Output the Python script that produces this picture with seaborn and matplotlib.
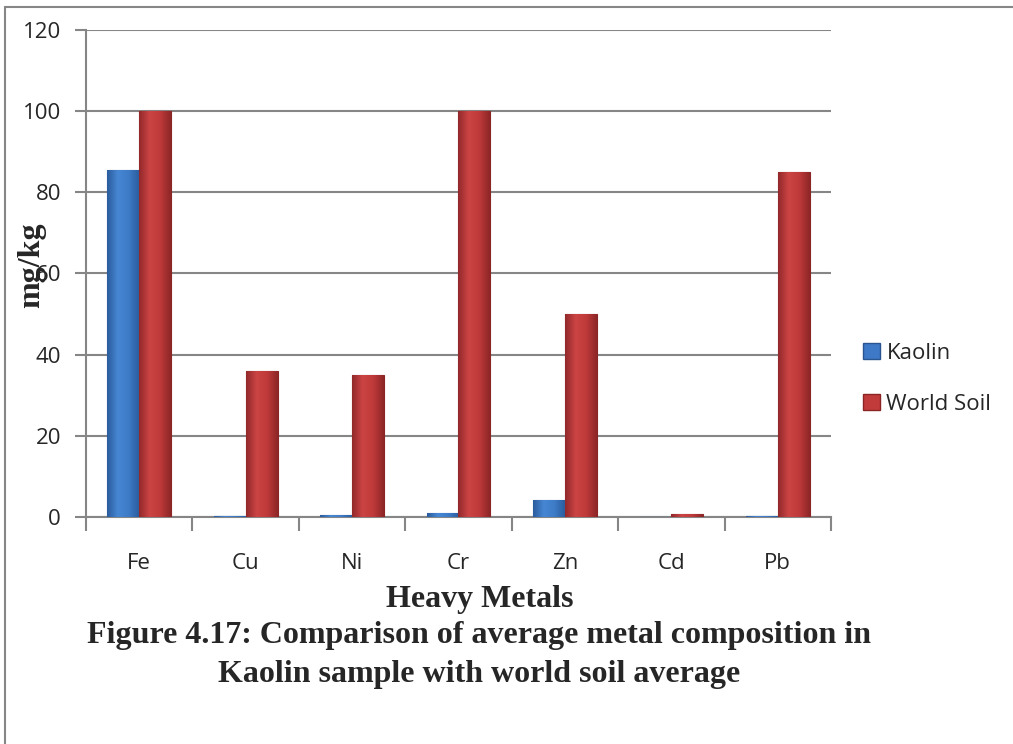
import matplotlib
matplotlib.use("Agg")
import matplotlib.pyplot as plt
import seaborn as sns
import pandas as pd
import numpy as np
from matplotlib.patches import Patch
from matplotlib.lines import Line2D
from matplotlib.colors import LinearSegmentedColormap

metals = ["Fe", "Cu", "Ni", "Cr", "Zn", "Cd", "Pb"]
kaolin = [85.6, 0.3, 0.5, 0.9, 4.1, 0.1, 0.3]
world_soil = [100, 36, 35, 100, 50, 0.8, 85]
series = ["Kaolin", "World Soil"]
yticks = [0, 20, 40, 60, 80, 100, 120]

df = pd.DataFrame({
    "metal": metals * 2,
    "value": kaolin + world_soil,
    "series": [series[0]] * len(metals) + [series[1]] * len(metals),
})

sns.set_theme(style="white")
plt.rcParams['font.family'] = ['Open Sans', 'DejaVu Sans']

fig = plt.figure(figsize=(10.13, 7.44), dpi=100)
ax = fig.add_axes([0.0849, 0.3051, 0.7354, 0.6546])

colors = {"Kaolin": "#3D79C6", "World Soil": "#C23B3B"}
edges = {"Kaolin": "#2A5590", "World Soil": "#8A2425"}
grads = {
    "Kaolin": LinearSegmentedColormap.from_list(
        "kg", ["#2B5C9E", "#4686D2", "#3E7CC8", "#2C5E9F"]),
    "World Soil": LinearSegmentedColormap.from_list(
        "wg", ["#92292A", "#CC4444", "#BF3A3A", "#8E2627"]),
}
sns.barplot(data=df, x="metal", y="value", hue="series", palette=colors,
            width=0.6, gap=0, ax=ax, legend=False, saturation=1,
            edgecolor="none", zorder=3)

ax.set_ylim(0, 120)
ax.set_xlim(-0.5, len(metals) - 0.5)

grad = np.linspace(0, 1, 64).reshape(1, -1)
for i, cont in enumerate(ax.containers):
    s = series[i]
    for p in cont:
        p.set_edgecolor(edges[s])
        p.set_linewidth(0.8)
        x0, y0 = p.get_x(), p.get_y()
        w, h = p.get_width(), p.get_height()
        if h <= 0:
            continue
        im = ax.imshow(grad, cmap=grads[s], aspect="auto",
                       extent=[x0, x0 + w, y0, y0 + h], zorder=3.5,
                       interpolation="bilinear")
        im.set_clip_path(p)
ax.set_xlim(-0.5, len(metals) - 0.5)
ax.set_ylim(0, 120)

ax.set_yticks(yticks)
ax.yaxis.grid(True, color="#868686", linewidth=1.5, zorder=0)
ax.set_axisbelow(True)
for sp in ["top", "right"]:
    ax.spines[sp].set_visible(False)
for sp in ["left", "bottom"]:
    ax.spines[sp].set_color("#868686")
    ax.spines[sp].set_linewidth(1.5)

ax.tick_params(axis="y", which="major", length=8, width=1.5, color="#868686",
               labelsize=16, pad=10, left=True)
ax.tick_params(axis="x", which="major", length=0, labelsize=16, pad=26)
ax.set_xticks(np.arange(-0.5, len(metals) + 0.5, 1), minor=True)
ax.tick_params(axis="x", which="minor", length=10, width=1.5, color="#868686", bottom=True)

ax.set_xlabel("")
ax.set_ylabel("")
fig.text(0.474, 1 - 599 / 744, "Heavy Metals", fontsize=23, fontweight="bold",
         family="Liberation Serif", ha="center", va="center")
fig.text(0.031, 1 - 265 / 744, "mg/kg", rotation=90, fontsize=23, fontweight="bold",
         family="Liberation Serif", ha="center", va="center")

fig.text(0.473, 1 - 655 / 744,
         "Figure 4.17: Comparison of average metal composition in\nKaolin sample with world soil average",
         fontsize=23, fontweight="bold", family="Liberation Serif", ha="center", va="center",
         linespacing=1.42)

handles = [Patch(facecolor=colors[s], edgecolor=edges[s]) for s in series]
fig.legend(handles, series, loc="center left", bbox_to_anchor=(0.852, 1 - 379 / 744),
           frameon=False, fontsize=16, handlelength=0.75, handleheight=0.75,
           handletextpad=0.3, labelspacing=1.35, borderaxespad=0, borderpad=0)

# figure border (left and top visible)
fig.add_artist(Line2D([0.005, 0.005], [0, 0.991], color="#868686", linewidth=1.5))
fig.add_artist(Line2D([0.005, 1.0], [0.991, 0.991], color="#868686", linewidth=1.5))

fig.savefig("out.png", dpi=100, facecolor="white")
